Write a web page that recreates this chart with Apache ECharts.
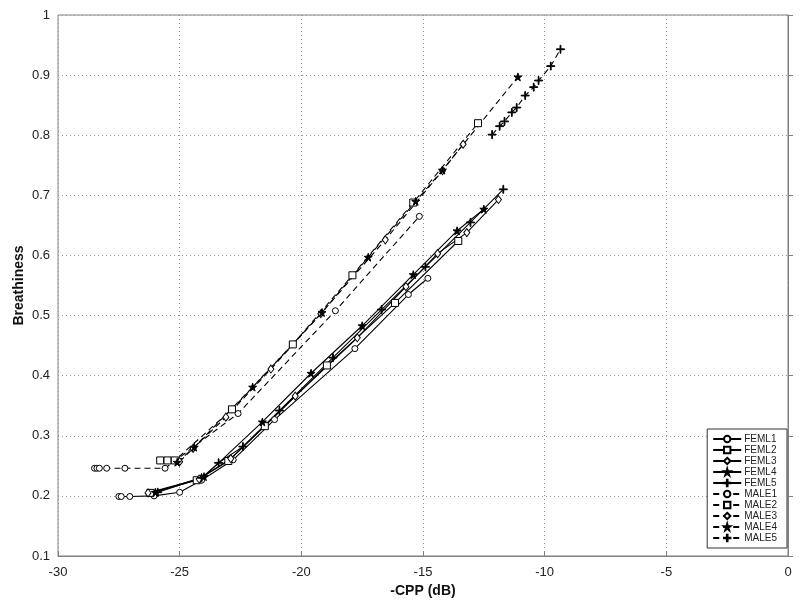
<!DOCTYPE html>
<html>
<head>
<meta charset="utf-8">
<script src="https://cdn.jsdelivr.net/npm/echarts@6/dist/echarts.min.js"></script>
<style>html,body{margin:0;padding:0;background:#fff;}#c{width:800px;height:606px;}</style>
</head>
<body>
<div id="c"></div>
<script>
// ---- data ----
const seriesNames = ['FEML1','FEML2','FEML3','FEML4','FEML5','MALE1','MALE2','MALE3','MALE4','MALE5'];
const FEML1 = [[-27.5,0.199],[-27.4,0.199],[-27.05,0.199],[-26.05,0.2],[-25.0,0.206],[-24.1,0.226],[-22.8,0.26],[-21.1,0.327],[-17.8,0.445],[-15.6,0.535],[-14.8,0.562]];
const FEML2 = [[-26.2,0.205],[-24.3,0.226],[-23.0,0.258],[-21.5,0.316],[-18.95,0.417],[-16.15,0.521],[-13.55,0.624]];
const FEML3 = [[-26.3,0.205],[-24.2,0.228],[-22.9,0.262],[-20.25,0.366],[-17.7,0.463],[-15.7,0.548],[-14.4,0.603],[-13.2,0.638],[-11.9,0.693]];
const FEML4 = [[-26.0,0.206],[-24.0,0.232],[-21.6,0.323],[-19.6,0.404],[-17.5,0.483],[-15.4,0.568],[-13.6,0.641],[-12.5,0.677]];
const FEML5 = [[-25.9,0.206],[-24.1,0.23],[-23.4,0.255],[-22.4,0.282],[-20.9,0.342],[-18.7,0.43],[-16.7,0.51],[-14.9,0.581],[-13.05,0.655],[-11.7,0.71]];
const MALE1 = [[-28.5,0.246],[-28.4,0.246],[-28.3,0.246],[-28.0,0.246],[-27.25,0.246],[-25.6,0.246],[-22.6,0.337],[-18.6,0.508],[-15.15,0.665]];
const MALE2 = [[-25.8,0.259],[-25.5,0.259],[-25.2,0.259],[-22.85,0.344],[-20.35,0.452],[-17.9,0.567],[-15.4,0.688],[-12.74,0.82]];
const MALE3 = [[-25.0,0.257],[-24.45,0.279],[-23.1,0.331],[-21.25,0.411],[-19.2,0.503],[-16.55,0.626],[-14.2,0.741],[-13.35,0.785]];
const MALE4 = [[-25.1,0.256],[-24.4,0.281],[-22.0,0.381],[-19.15,0.505],[-17.25,0.597],[-15.3,0.69],[-14.2,0.742],[-11.1,0.897]];
const MALE5 = [[-12.16,0.801],[-11.85,0.815],[-11.65,0.823],[-11.35,0.838],[-11.15,0.846],[-10.8,0.866],[-10.45,0.88],[-10.25,0.891],[-9.75,0.915],[-9.35,0.943]];
const xTicks = [-30,-25,-20,-15,-10,-5,0];
const yTicks = [0.1,0.2,0.3,0.4,0.5,0.6,0.7,0.8,0.9,1];

// ---- styling ----
const STAR = 'path://M50,0 L61,35 L98,35 L68,57 L79,91 L50,70 L21,91 L32,57 L2,35 L39,35 Z';
const PLUS = 'path://M45,0 L55,0 L55,45 L100,45 L100,55 L55,55 L55,100 L45,100 L45,55 L0,55 L0,45 L45,45 Z';
const allData = [FEML1,FEML2,FEML3,FEML4,FEML5,MALE1,MALE2,MALE3,MALE4,MALE5];
const markerKinds = ['circle','rect','diamond','star','plus','circle','rect','diamond','star','plus'];
function markerStyle(k){
  if(k==='circle') return {symbol:'circle', size:6, fill:'#fff'};
  if(k==='rect') return {symbol:'rect', size:7, fill:'#fff'};
  if(k==='diamond') return {symbol:'diamond', size:[6,8], fill:'#fff'};
  if(k==='star') return {symbol:STAR, size:8, fill:'#000'};
  return {symbol:PLUS, size:8, fill:'#000'};
}
const series = allData.map((d,i)=>{
  const m = markerStyle(markerKinds[i]);
  const dashed = i>=5;
  return {
    name: seriesNames[i], type:'line', data:d,
    symbol:m.symbol, symbolSize:m.size, showSymbol:true,
    itemStyle:{color:m.fill, borderColor:'#000', borderWidth:1},
    lineStyle:{color:'#000', width:1.1, type: dashed ? [6,4] : 'solid'},
    emphasis:{disabled:true}, animation:false, z: 2
  };
});

const chart = echarts.init(document.getElementById('c'), null, {renderer:'canvas'});
chart.setOption({
  backgroundColor:'#fff',
  animation:false,
  textStyle:{fontFamily:'Liberation Sans, Arial, sans-serif'},
  grid:{left:58, right:12, top:15, bottom:50, show:true, borderColor:'#808080', borderWidth:1, backgroundColor:'transparent'},
  xAxis:{
    type:'value', min:xTicks[0], max:xTicks[xTicks.length-1], interval:5,
    name:'-CPP (dB)', nameLocation:'middle', nameGap:28, nameMoveOverlap:false,
    nameTextStyle:{fontSize:14, fontWeight:'bold', color:'#111', fontFamily:'Liberation Sans, Arial, sans-serif'},
    axisLine:{show:true, lineStyle:{color:'#808080'}},
    axisTick:{show:true, inside:true, length:5, lineStyle:{color:'#808080'}},
    axisLabel:{fontSize:13, color:'#222', margin:10, fontFamily:'Liberation Sans, Arial, sans-serif'},
    splitLine:{show:true, lineStyle:{type:[1,3], color:'#999'}}
  },
  yAxis:{
    type:'value', min:yTicks[0], max:yTicks[yTicks.length-1], interval:0.1,
    name:'Breathiness', nameLocation:'middle', nameGap:32, nameMoveOverlap:false,
    nameTextStyle:{fontSize:14, fontWeight:'bold', color:'#111', fontFamily:'Liberation Sans, Arial, sans-serif'},
    axisLine:{show:true, lineStyle:{color:'#808080'}},
    axisTick:{show:true, inside:true, length:5, lineStyle:{color:'#808080'}},
    axisLabel:{fontSize:13, color:'#222', margin:8, fontFamily:'Liberation Sans, Arial, sans-serif',
      formatter:v=>String(Math.round(v*10)/10)},
    splitLine:{show:true, lineStyle:{type:[1,3], color:'#999'}}
  },
  legend:{
    data:seriesNames, orient:'vertical', right:13, bottom:58,
    itemWidth:28, itemHeight:8, itemGap:1,
    backgroundColor:'#fff', borderColor:'#333', borderWidth:1, borderRadius:0,
    padding:[5,10,5,5],
    textStyle:{fontSize:10, lineHeight:10, color:'#222', padding:[0,0,0,-2], fontFamily:'Liberation Sans, Arial, sans-serif'},
    selectedMode:false
  },
  series: series
});
</script>
</body>
</html>
